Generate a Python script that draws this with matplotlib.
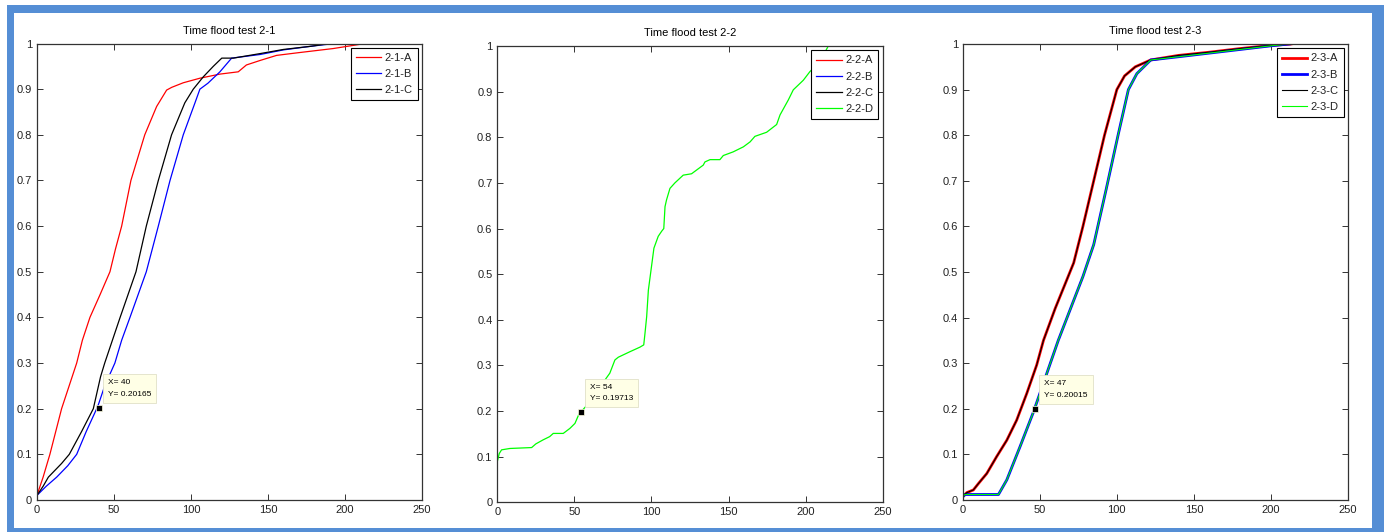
import matplotlib.pyplot as plt
from matplotlib.patches import Rectangle
from matplotlib.ticker import FuncFormatter

plt.rcParams['font.family'] = ['Liberation Sans', 'DejaVu Sans']

# test 2-1
t21_a_x = [0, 4, 8.4, 16, 25.8, 29.5, 34.4, 41, 47.4, 51, 55, 61, 70, 77.7, 84.2, 87.5, 95, 105.8, 118.8, 130.7, 136,
           145, 155.6, 170, 192.4, 213]
t21_a_y = [0.01, 0.05, 0.1, 0.2, 0.3, 0.35, 0.4, 0.45, 0.5, 0.55, 0.6, 0.7, 0.8, 0.862, 0.898, 0.904, 0.914, 0.924,
           0.933, 0.938, 0.953, 0.963, 0.974, 0.98, 0.989, 1.0]
t21_b_x = [0, 6, 12.8, 20, 25.8, 32, 38.8, 40, 44, 50.6, 55, 60.4, 71, 78.8, 86.4, 95, 102.6, 105.8, 111, 118.8, 126.4,
           145, 160, 178, 193]
t21_b_y = [0.01, 0.03, 0.05, 0.075, 0.1, 0.15, 0.2, 0.21, 0.25, 0.3, 0.35, 0.4, 0.5, 0.6, 0.7, 0.8, 0.87, 0.9, 0.913,
           0.938, 0.968, 0.976, 0.986, 0.994, 1.0]
t21_c_x = [0, 4, 7.4, 16, 21, 29, 36.6, 41.3, 44, 54, 64.3, 71, 78.8, 87.4, 96, 101.5, 108, 114.5, 120, 127.5, 145, 160,
           178, 190]
t21_c_y = [0.01, 0.03, 0.05, 0.08, 0.1, 0.15, 0.2, 0.27, 0.3, 0.4, 0.5, 0.6, 0.7, 0.8, 0.87, 0.9, 0.927, 0.95, 0.968,
           0.968, 0.978, 0.987, 0.994, 1.0]

# test 2-2 (only D has data)
t22_d_x = [0, 0, 1.3, 2.8, 8.2, 22.3, 25, 29.8, 34, 36.3, 42.8, 47.1, 50.4, 53.2, 54, 60, 66, 73, 76.3, 78.5, 86, 92.5,
           95, 95.8, 96.9, 98, 100, 101.6, 104.4, 106.6, 108, 108.8, 109.8, 112, 115.2, 120.6, 126, 130.4, 133.6, 134.7,
           138, 144.4, 146.6, 153, 159.6, 164, 167.1, 174.7, 181.2, 183.4, 188.8, 192, 198.5, 202.8, 207.1, 211.5,
           214.7]
t22_d_y = [0, 0.089, 0.107, 0.115, 0.118, 0.12, 0.128, 0.137, 0.144, 0.151, 0.151, 0.162, 0.173, 0.195, 0.197, 0.22,
           0.25, 0.283, 0.312, 0.318, 0.33, 0.34, 0.345, 0.37, 0.407, 0.465, 0.516, 0.557, 0.583, 0.594, 0.6, 0.648,
           0.663, 0.688, 0.7, 0.717, 0.72, 0.731, 0.739, 0.746, 0.751, 0.751, 0.76, 0.768, 0.779, 0.79, 0.802, 0.811,
           0.828, 0.849, 0.882, 0.904, 0.925, 0.944, 0.958, 0.98, 1.0]

# test 2-3
t23_a_x = [0, 2.6, 6.9, 10.2, 15.6, 22, 28.6, 35, 41.6, 48, 52.4, 60, 66, 72, 78, 85, 92, 100, 105, 112, 122, 140, 160,
           180, 200, 213]
t23_a_y = [0.007, 0.016, 0.022, 0.036, 0.058, 0.095, 0.131, 0.175, 0.234, 0.296, 0.35, 0.42, 0.47, 0.52, 0.6, 0.7, 0.8,
           0.9, 0.93, 0.95, 0.965, 0.975, 0.982, 0.99, 0.997, 1.0]
t23_b_x = [0, 1.5, 23.2, 28.6, 37.2, 45.9, 54.5, 62, 70, 78, 85, 93, 100.8, 107.5, 113, 122, 140, 160, 180, 200, 212]
t23_b_y = [0.007, 0.012, 0.012, 0.044, 0.117, 0.193, 0.277, 0.35, 0.42, 0.49, 0.56, 0.68, 0.8, 0.9, 0.935, 0.965, 0.972,
           0.98, 0.988, 0.996, 1.0]
t23_c_x = t23_a_x
t23_c_y = t23_a_y
t23_d_x = t23_b_x
t23_d_y = t23_b_y

tips = [(40, 0.20165), (54, 0.19713), (47, 0.20015)]

W, H = 1384, 532
fig = plt.figure(figsize=(W / 100, H / 100), dpi=100)


def band(x0, y0, x1, y1):
    # blue frame piece, in pixels from the top left
    fig.patches.append(Rectangle((x0 / W, 1 - y1 / H), (x1 - x0) / W, (y1 - y0) / H, transform=fig.transFigure,
                                 facecolor='#558ed5', edgecolor='none'))


band(7, 5, 1384, 13)
band(7, 5, 14, 532)
band(1372, 5, 1384, 532)
band(7, 528, 1384, 532)

ax1 = fig.add_axes([0.0267, 0.0602, 0.2782, 0.858])
ax2 = fig.add_axes([0.3593, 0.0558, 0.2785, 0.8577])
ax3 = fig.add_axes([0.6956, 0.0602, 0.2784, 0.8571])

ax1.plot(t21_a_x, t21_a_y, color='#ff0000', lw=0.9, label='2-1-A')
ax1.plot(t21_b_x, t21_b_y, color='#0000ff', lw=0.9, label='2-1-B')
ax1.plot(t21_c_x, t21_c_y, color='black', lw=0.9, label='2-1-C')

ax2.plot([], [], color='#ff0000', lw=0.9, label='2-2-A')
ax2.plot([], [], color='#0000ff', lw=0.9, label='2-2-B')
ax2.plot([], [], color='black', lw=0.9, label='2-2-C')
ax2.plot(t22_d_x, t22_d_y, color='#00ff00', lw=0.9, label='2-2-D')

ax3.plot(t23_a_x, t23_a_y, color='#ff0000', lw=2.0, label='2-3-A')
ax3.plot(t23_b_x, t23_b_y, color='#0000ff', lw=2.0, label='2-3-B')
ax3.plot(t23_c_x, t23_c_y, color='black', lw=0.8, label='2-3-C')
ax3.plot(t23_d_x, t23_d_y, color='#00ff00', lw=0.8, label='2-3-D')

for ax, title, tip in zip([ax1, ax2, ax3], ['Time flood test 2-1', 'Time flood test 2-2', 'Time flood test 2-3'], tips):
    ax.set_title(title, fontsize=8, pad=7)
    ax.set_xlim(0, 250)
    ax.set_ylim(0, 1)
    ax.set_xticks([0, 50, 100, 150, 200, 250])
    ax.set_yticks([i / 10 for i in range(11)])
    ax.yaxis.set_major_formatter(FuncFormatter(lambda v, p: '%g' % round(v, 1)))
    ax.tick_params(direction='in', length=4, width=0.7, labelsize=8, top=True, right=True, colors='#333333',
                   labelcolor='#222222')
    for s in ax.spines.values():
        s.set_linewidth(0.9)
        s.set_color('#333333')
    leg = ax.legend(loc='upper right', fontsize=8, fancybox=False, framealpha=1, edgecolor='black',
                    handlelength=2.3, handletextpad=0.3, borderpad=0.45, labelspacing=0.55,
                    borderaxespad=0.4)
    leg.get_frame().set_linewidth(0.8)
    for t in leg.get_texts():
        t.set_color('#222222')
    ax.annotate('X= %g\nY= %s' % (tip[0], repr(tip[1])), xy=tip, xytext=(9, 10), textcoords='offset pixels',
                ha='left', va='bottom', fontsize=6, linespacing=1.9, zorder=7,
                bbox=dict(boxstyle='square,pad=0.6', fc='#ffffe6', ec='#e0e0c8', lw=0.6))
    ax.plot([tip[0]], [tip[1]], 's', color='black', ms=5, mec='#ffffe0', mew=0.5, zorder=8)

fig.savefig('out.png', dpi=100)
